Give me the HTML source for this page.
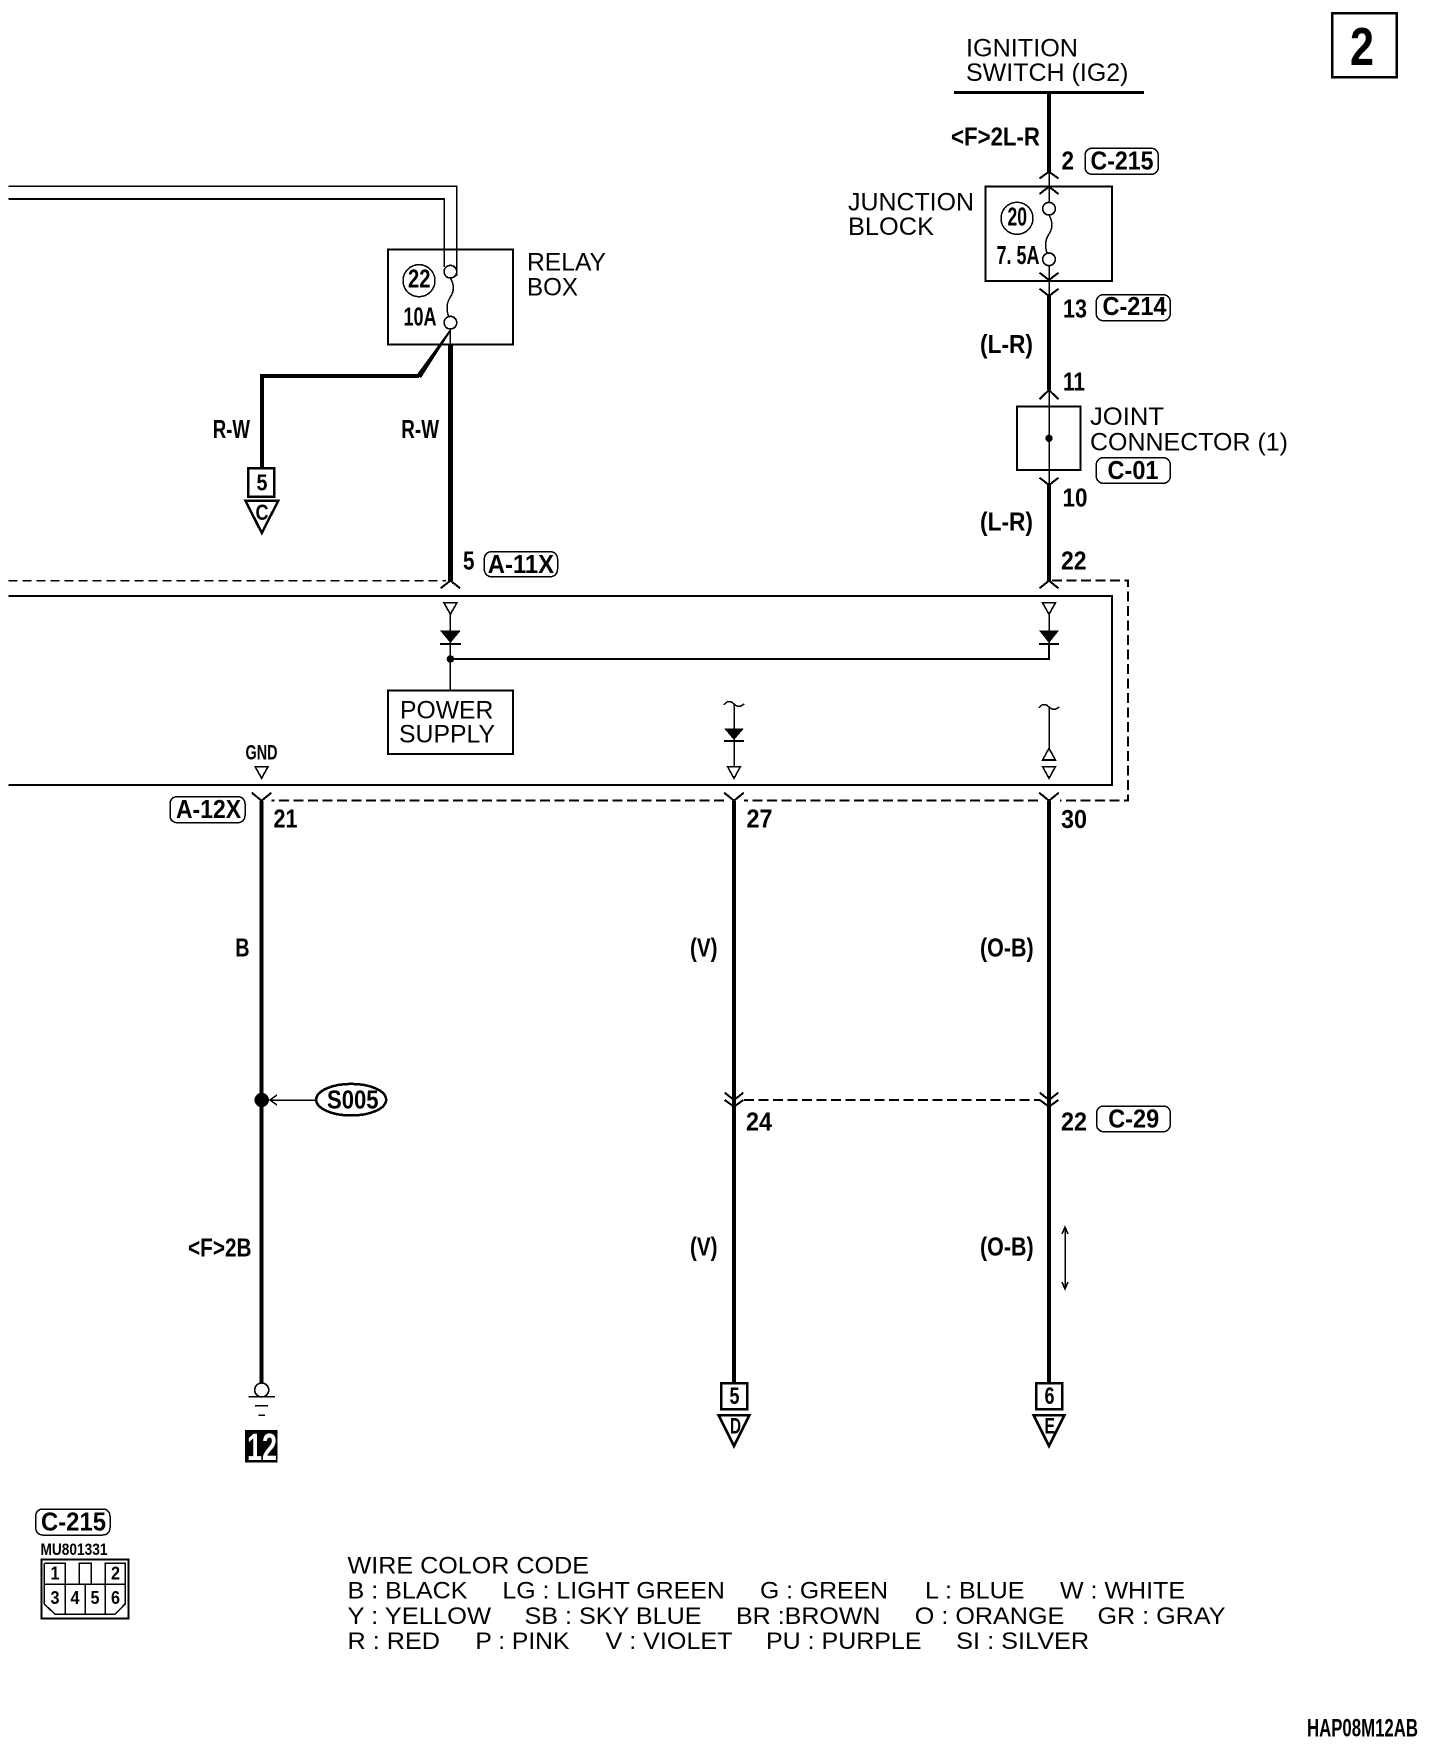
<!DOCTYPE html>
<html lang="en">
<head>
<meta charset="utf-8">
<title>Wiring diagram</title>
<style>
html,body{margin:0;padding:0;background:#fff;width:1440px;height:1752px;overflow:hidden}
svg{display:block}
text{font-family:"Liberation Sans",Arial,sans-serif;fill:#000}
.r{font-size:25px}
.l{font-size:24px}
.b{font-size:26px;font-weight:bold;transform:translateY(-1px)}
.s{font-size:18px;font-weight:bold}
.w{fill:none;stroke:#000;stroke-width:4}
.t{fill:none;stroke:#000;stroke-width:1.5}
.m{fill:none;stroke:#000;stroke-width:2}
.h{fill:none;stroke:#000;stroke-width:2.5}
.o{fill:#fff;stroke:#000;stroke-width:1.6}
.f{fill:#000;stroke:none}
</style>
</head>
<body>
<svg width="1440" height="1752" viewBox="0 0 1440 1752" xmlns="http://www.w3.org/2000/svg" shape-rendering="crispEdges">
<rect width="1440" height="1752" fill="#fff"/>

<!-- page number -->
<rect class="h" x="1332" y="13" width="64.5" height="64"/>
<text x="1350" y="65" style="font-size:54px;font-weight:bold" textLength="24" lengthAdjust="spacingAndGlyphs">2</text>

<!-- ignition switch -->
<text class="r" x="966" y="56.7" textLength="112" lengthAdjust="spacingAndGlyphs">IGNITION</text>
<text class="r" x="966" y="81" textLength="162.5" lengthAdjust="spacingAndGlyphs">SWITCH (IG2)</text>
<line x1="954" y1="92.3" x2="1144" y2="92.3" stroke="#000" stroke-width="3"/>
<line class="w" x1="1049" y1="92" x2="1049" y2="172"/>
<text class="b" x="951" y="146.7" textLength="89" lengthAdjust="spacingAndGlyphs">&lt;F&gt;2L-R</text>
<text class="b" x="1061.5" y="170.7" textLength="12.5" lengthAdjust="spacingAndGlyphs">2</text>
<rect class="t" x="1085" y="148.3" width="73.3" height="26" rx="7"/>
<text class="b" x="1090.5" y="170.7" textLength="63" lengthAdjust="spacingAndGlyphs">C-215</text>
<path class="m" d="M1039.5 178.5L1049 171.7L1058.5 178.5M1039.5 194L1049 186.7L1058.5 194"/>
<line class="t" x1="1049" y1="172" x2="1049" y2="202"/>

<!-- junction block -->
<text class="r" x="848" y="210.7" textLength="126" lengthAdjust="spacingAndGlyphs">JUNCTION</text>
<text class="r" x="848" y="235" textLength="86" lengthAdjust="spacingAndGlyphs">BLOCK</text>
<rect class="m" x="985.4" y="186.7" width="126.6" height="94.3"/>
<circle class="o" cx="1049" cy="208.7" r="6.3"/>
<circle class="o" cx="1049" cy="259.3" r="6.3"/>
<path class="t" d="M1049 215C1053 222 1053 228 1049 234C1045 240 1045 247 1047 253"/>
<circle class="t" cx="1017" cy="218.3" r="16"/>
<text class="b" x="1007.5" y="226.7" textLength="19.5" lengthAdjust="spacingAndGlyphs">20</text>
<text class="b" x="996.5" y="265" textLength="43" lengthAdjust="spacingAndGlyphs">7. 5A</text>
<line class="t" x1="1049" y1="265.6" x2="1049" y2="296"/>
<path class="m" d="M1039.5 272.7L1049 280L1058.5 272.7M1039.5 288.7L1049 296L1058.5 288.7"/>
<line class="w" x1="1049" y1="296" x2="1049" y2="390"/>
<text class="b" x="1063" y="318.3" textLength="24" lengthAdjust="spacingAndGlyphs">13</text>
<rect class="t" x="1096.3" y="294.7" width="74" height="26" rx="7"/>
<text class="b" x="1102.5" y="316" textLength="64" lengthAdjust="spacingAndGlyphs">C-214</text>
<text class="b" x="980" y="354" textLength="53" lengthAdjust="spacingAndGlyphs">(L-R)</text>
<text class="b" x="1063" y="391.7" textLength="22" lengthAdjust="spacingAndGlyphs">11</text>

<!-- joint connector -->
<path class="m" d="M1039.5 399.3L1049 390L1058.5 399.3"/>
<line class="t" x1="1049" y1="390" x2="1049" y2="485"/>
<rect class="m" x="1017" y="406.7" width="63.4" height="63.3"/>
<circle class="f" cx="1049" cy="438.3" r="3.7"/>
<text class="r" x="1090" y="425" textLength="74" lengthAdjust="spacingAndGlyphs">JOINT</text>
<text class="r" x="1090" y="450.7" textLength="198" lengthAdjust="spacingAndGlyphs">CONNECTOR (1)</text>
<rect class="t" x="1096.3" y="457.7" width="74" height="25.6" rx="7"/>
<text class="b" x="1107.5" y="480" textLength="51" lengthAdjust="spacingAndGlyphs">C-01</text>
<path class="m" d="M1039.5 477.7L1049 485L1058.5 477.7"/>
<line class="w" x1="1049" y1="485" x2="1049" y2="581"/>
<text class="b" x="1062.5" y="507.3" textLength="25" lengthAdjust="spacingAndGlyphs">10</text>
<text class="b" x="980" y="531.7" textLength="53" lengthAdjust="spacingAndGlyphs">(L-R)</text>
<text class="b" x="1061" y="570.7" textLength="25.5" lengthAdjust="spacingAndGlyphs">22</text>
<path class="m" d="M1039.5 588.3L1049 580.7L1058.5 588.3"/>

<!-- ECU dashed outline -->
<path class="t" stroke-dasharray="9 5" d="M8.7 580.5H446"/>
<path class="m" stroke-dasharray="10 4.5" d="M1052 580.7H1128V800.7H1060"/>
<path class="m" stroke-dasharray="10 4.5" d="M1038 800.7H744M724 800.7H271.5"/>

<!-- ECU body -->
<path class="m" d="M8.7 596H1111.8V785H8.7"/>

<!-- top-left wires -->
<path class="t" d="M8.7 186H456.7V276"/>
<path class="t" d="M444 199V267"/>
<line x1="8.7" y1="199" x2="445" y2="199" stroke="#000" stroke-width="2.2"/>

<!-- relay box -->
<rect class="m" x="388" y="249.3" width="125" height="95"/>
<circle class="o" cx="450.4" cy="271.7" r="6.3"/>
<circle class="o" cx="450.4" cy="322.7" r="6.3"/>
<path class="t" d="M450.4 278C454.4 285 454.4 291 450.4 297C446.4 303 446.4 310 448.4 316"/>
<circle class="t" cx="419" cy="280.7" r="16"/>
<text class="b" x="408" y="288.3" textLength="22.5" lengthAdjust="spacingAndGlyphs">22</text>
<text class="b" x="403.5" y="326.7" textLength="33" lengthAdjust="spacingAndGlyphs">10A</text>
<text class="r" x="527" y="270.7" textLength="79" lengthAdjust="spacingAndGlyphs">RELAY</text>
<text class="r" x="527" y="295.7" textLength="51" lengthAdjust="spacingAndGlyphs">BOX</text>
<line class="t" x1="450.4" y1="329" x2="450.4" y2="345"/>
<line x1="450.4" y1="344" x2="450.4" y2="581" stroke="#000" stroke-width="5"/>
<polygon class="f" points="449.5,330 451,331 421,378 416.5,375"/>
<path class="w" d="M419 376H261.8V468.3"/>
<text class="b" x="212.7" y="439" textLength="37.3" lengthAdjust="spacingAndGlyphs">R-W</text>
<text class="b" x="401.3" y="439" textLength="37.7" lengthAdjust="spacingAndGlyphs">R-W</text>
<rect class="h" x="248.3" y="468.3" width="26.1" height="28.4"/>
<text x="256.5" y="490.7" textLength="11" lengthAdjust="spacingAndGlyphs" style="font-size:23px;font-weight:bold">5</text>
<polygon class="h" points="245.5,500.7 278.3,500.7 261.8,533"/>
<text x="255.5" y="520" textLength="13" lengthAdjust="spacingAndGlyphs" style="font-size:22px;font-weight:bold">C</text>
<text class="b" x="463" y="570.7" textLength="11.5" lengthAdjust="spacingAndGlyphs">5</text>
<rect class="t" x="484.4" y="551.7" width="73.1" height="25" rx="7"/>
<text class="b" x="487.8" y="574" textLength="66.3" lengthAdjust="spacingAndGlyphs">A-11X</text>
<path class="m" d="M440.6 588.3L450.4 580.7L460.2 588.3"/>

<!-- internal: left power diode -->
<polygon class="o" points="443.9,602.7 456.9,602.7 450.4,614.3"/>
<line class="t" x1="450.4" y1="614" x2="450.4" y2="690"/>
<polygon class="f" points="440,630.5 460.8,630.5 450.4,643"/>
<line class="m" x1="440" y1="644" x2="460.8" y2="644"/>
<circle class="f" cx="450.4" cy="659" r="3.7"/>
<path class="m" d="M450.4 659H1049V644"/>
<rect class="m" x="388" y="690.5" width="125" height="63.5"/>
<text class="r" x="400" y="718.3" textLength="93.4" lengthAdjust="spacingAndGlyphs">POWER</text>
<text class="r" x="399" y="742.7" textLength="96" lengthAdjust="spacingAndGlyphs">SUPPLY</text>

<!-- internal: right power diode -->
<polygon class="o" points="1042.5,602.7 1055.5,602.7 1049,614.3"/>
<line class="t" x1="1049" y1="614" x2="1049" y2="644"/>
<polygon class="f" points="1039,630.5 1059,630.5 1049,643"/>
<line class="m" x1="1039" y1="644" x2="1059" y2="644"/>

<!-- GND -->
<text class="s" x="245.5" y="759.5" textLength="32" lengthAdjust="spacingAndGlyphs" style="font-size:21px">GND</text>
<polygon class="o" points="255.2,766.7 268,766.7 261.6,778.3"/>
<path class="m" d="M251.8 792.7L261.6 800.7L271.4 792.7"/>
<line class="w" x1="261.7" y1="801" x2="261.7" y2="1384"/>
<rect class="t" x="170" y="796.7" width="75" height="26" rx="7"/>
<text class="b" x="176" y="819" textLength="65" lengthAdjust="spacingAndGlyphs">A-12X</text>
<text class="b" x="273.5" y="828.3" textLength="24" lengthAdjust="spacingAndGlyphs">21</text>
<text class="b" x="235.2" y="957.3" textLength="14.3" lengthAdjust="spacingAndGlyphs">B</text>

<!-- middle internal -->
<path class="t" d="M724 705C727 700 731 701 734 704C737 707 741 707 744 704"/>
<line class="t" x1="734" y1="704" x2="734" y2="767"/>
<polygon class="f" points="724,728.3 744,728.3 734,740"/>
<line class="m" x1="724" y1="741" x2="744" y2="741"/>
<polygon class="o" points="727.6,766.7 740.4,766.7 734,778.3"/>
<path class="m" d="M724.2 792.7L734 800.7L743.8 792.7"/>
<line class="w" x1="734" y1="801" x2="734" y2="1384"/>
<text class="b" x="746.5" y="828.3" textLength="26" lengthAdjust="spacingAndGlyphs">27</text>
<text class="b" x="690" y="957.3" textLength="27.5" lengthAdjust="spacingAndGlyphs">(V)</text>

<!-- right internal -->
<path class="t" d="M1039 708C1042 703 1046 704 1049 707C1052 710 1056 710 1059 707"/>
<line class="t" x1="1049" y1="707" x2="1049" y2="749"/>
<polygon class="o" points="1042.6,760 1055.4,760 1049,748.3"/>
<polygon class="o" points="1042.6,766.7 1055.4,766.7 1049,778.3"/>
<path class="m" d="M1039.2 792.7L1049 800.7L1058.8 792.7"/>
<line class="w" x1="1049" y1="801" x2="1049" y2="1384"/>
<text class="b" x="1061" y="829" textLength="26" lengthAdjust="spacingAndGlyphs">30</text>
<text class="b" x="980" y="957.3" textLength="53.6" lengthAdjust="spacingAndGlyphs">(O-B)</text>

<!-- splice S005 -->
<circle class="f" cx="261.7" cy="1100" r="7.2"/>
<line class="t" x1="270" y1="1100" x2="316" y2="1100"/>
<path class="t" d="M277 1095L270 1100L277 1105"/>
<ellipse class="h" cx="351.2" cy="1099.7" rx="35" ry="15.8"/>
<text class="b" x="327" y="1109.3" textLength="51.5" lengthAdjust="spacingAndGlyphs">S005</text>

<!-- lower connector C-29 -->
<path class="m" d="M724.7 1092.7L734 1100L743.3 1092.7M724.7 1100L734 1106.7L743.3 1100"/>
<path class="m" d="M1039.7 1092.7L1049 1100L1058.3 1092.7M1039.7 1100L1049 1106.7L1058.3 1100"/>
<line class="m" stroke-dasharray="10 4.5" x1="744" y1="1100" x2="1040" y2="1100"/>
<text class="b" x="746" y="1131.7" textLength="26" lengthAdjust="spacingAndGlyphs">24</text>
<text class="b" x="1061" y="1131.7" textLength="26" lengthAdjust="spacingAndGlyphs">22</text>
<rect class="t" x="1096.6" y="1106" width="73.7" height="25.7" rx="7"/>
<text class="b" x="1108.2" y="1128.3" textLength="51" lengthAdjust="spacingAndGlyphs">C-29</text>

<!-- lower labels -->
<text class="b" x="188" y="1257.3" textLength="63.5" lengthAdjust="spacingAndGlyphs">&lt;F&gt;2B</text>
<text class="b" x="690" y="1256.7" textLength="27.5" lengthAdjust="spacingAndGlyphs">(V)</text>
<text class="b" x="980" y="1256.7" textLength="53.6" lengthAdjust="spacingAndGlyphs">(O-B)</text>
<line class="t" x1="1065" y1="1227" x2="1065" y2="1289"/>
<path class="t" d="M1062 1234L1065 1227L1068 1234M1062 1282L1065 1289L1068 1282"/>

<!-- ground -->
<circle class="o" cx="261.7" cy="1390" r="7"/>
<line class="t" x1="248.3" y1="1396.7" x2="275" y2="1396.7"/>
<line class="t" x1="255" y1="1405.7" x2="268" y2="1405.7"/>
<line class="t" x1="258.3" y1="1415" x2="265" y2="1415"/>
<rect class="f" x="245" y="1430" width="32.7" height="32.7"/>
<text x="247" y="1460" textLength="30" lengthAdjust="spacingAndGlyphs" style="font-size:38px;font-weight:bold;fill:#fff">12</text>

<!-- off-page terminals -->
<rect class="h" x="721" y="1383" width="26" height="26"/>
<text x="729.5" y="1404" textLength="10" lengthAdjust="spacingAndGlyphs" style="font-size:24px;font-weight:bold">5</text>
<polygon class="h" points="718.5,1415 749.5,1415 734,1446"/>
<text x="730" y="1433.3" textLength="11" lengthAdjust="spacingAndGlyphs" style="font-size:22px;font-weight:bold">D</text>
<rect class="h" x="1036" y="1383" width="26" height="26"/>
<text x="1044.5" y="1404" textLength="10" lengthAdjust="spacingAndGlyphs" style="font-size:24px;font-weight:bold">6</text>
<polygon class="h" points="1033.5,1415 1064.5,1415 1049,1446"/>
<text x="1044.5" y="1433.3" textLength="10.5" lengthAdjust="spacingAndGlyphs" style="font-size:22px;font-weight:bold">E</text>

<!-- connector legend -->
<rect class="t" x="35.7" y="1509" width="74.3" height="26" rx="7"/>
<text class="b" x="41" y="1531.7" textLength="65" lengthAdjust="spacingAndGlyphs">C-215</text>
<text class="s" x="40.5" y="1555" textLength="67" lengthAdjust="spacingAndGlyphs" style="font-size:17px">MU801331</text>
<rect class="m" x="41.3" y="1559.7" width="87" height="58.6"/>
<path class="t" d="M44.3 1563.3H65V1584M44.3 1584H125M79 1584V1563.3H91V1584M105 1584V1563.3H125V1604L115 1614.3H55L44.3 1604V1563.3"/>
<path class="t" d="M65 1584V1614.3M85 1584V1614.3M105 1584V1614.3"/>
<g style="font-size:18px;font-weight:bold">
<text x="50.5" y="1579.3" textLength="9" lengthAdjust="spacingAndGlyphs">1</text>
<text x="111" y="1579.3" textLength="9" lengthAdjust="spacingAndGlyphs">2</text>
<text x="50.5" y="1604" textLength="9" lengthAdjust="spacingAndGlyphs">3</text>
<text x="70.5" y="1604" textLength="9" lengthAdjust="spacingAndGlyphs">4</text>
<text x="90.5" y="1604" textLength="9" lengthAdjust="spacingAndGlyphs">5</text>
<text x="111" y="1604" textLength="9" lengthAdjust="spacingAndGlyphs">6</text>
</g>

<!-- wire color code -->
<text class="l" x="347.5" y="1573.3" textLength="241.5" lengthAdjust="spacingAndGlyphs">WIRE COLOR CODE</text>
<text class="l" x="347.5" y="1598.3" textLength="120" lengthAdjust="spacingAndGlyphs">B : BLACK</text>
<text class="l" x="502.4" y="1598.3" textLength="222.5" lengthAdjust="spacingAndGlyphs">LG : LIGHT GREEN</text>
<text class="l" x="760" y="1598.3" textLength="128" lengthAdjust="spacingAndGlyphs">G : GREEN</text>
<text class="l" x="925" y="1598.3" textLength="99.5" lengthAdjust="spacingAndGlyphs">L : BLUE</text>
<text class="l" x="1060" y="1598.3" textLength="125" lengthAdjust="spacingAndGlyphs">W : WHITE</text>
<text class="l" x="347.5" y="1624" textLength="143.5" lengthAdjust="spacingAndGlyphs">Y : YELLOW</text>
<text class="l" x="524.5" y="1624" textLength="177" lengthAdjust="spacingAndGlyphs">SB : SKY BLUE</text>
<text class="l" x="736" y="1624" textLength="144.5" lengthAdjust="spacingAndGlyphs">BR :BROWN</text>
<text class="l" x="914.8" y="1624" textLength="149.5" lengthAdjust="spacingAndGlyphs">O : ORANGE</text>
<text class="l" x="1097.5" y="1624" textLength="128" lengthAdjust="spacingAndGlyphs">GR : GRAY</text>
<text class="l" x="347.5" y="1649" textLength="92.5" lengthAdjust="spacingAndGlyphs">R : RED</text>
<text class="l" x="475.4" y="1649" textLength="94" lengthAdjust="spacingAndGlyphs">P : PINK</text>
<text class="l" x="605.5" y="1649" textLength="127" lengthAdjust="spacingAndGlyphs">V : VIOLET</text>
<text class="l" x="766" y="1649" textLength="155.5" lengthAdjust="spacingAndGlyphs">PU : PURPLE</text>
<text class="l" x="956.2" y="1649" textLength="133" lengthAdjust="spacingAndGlyphs">SI : SILVER</text>

<!-- code -->
<text x="1307" y="1736.7" textLength="111" lengthAdjust="spacingAndGlyphs" style="font-size:25px;font-weight:bold">HAP08M12AB</text>
</svg>
</body>
</html>
